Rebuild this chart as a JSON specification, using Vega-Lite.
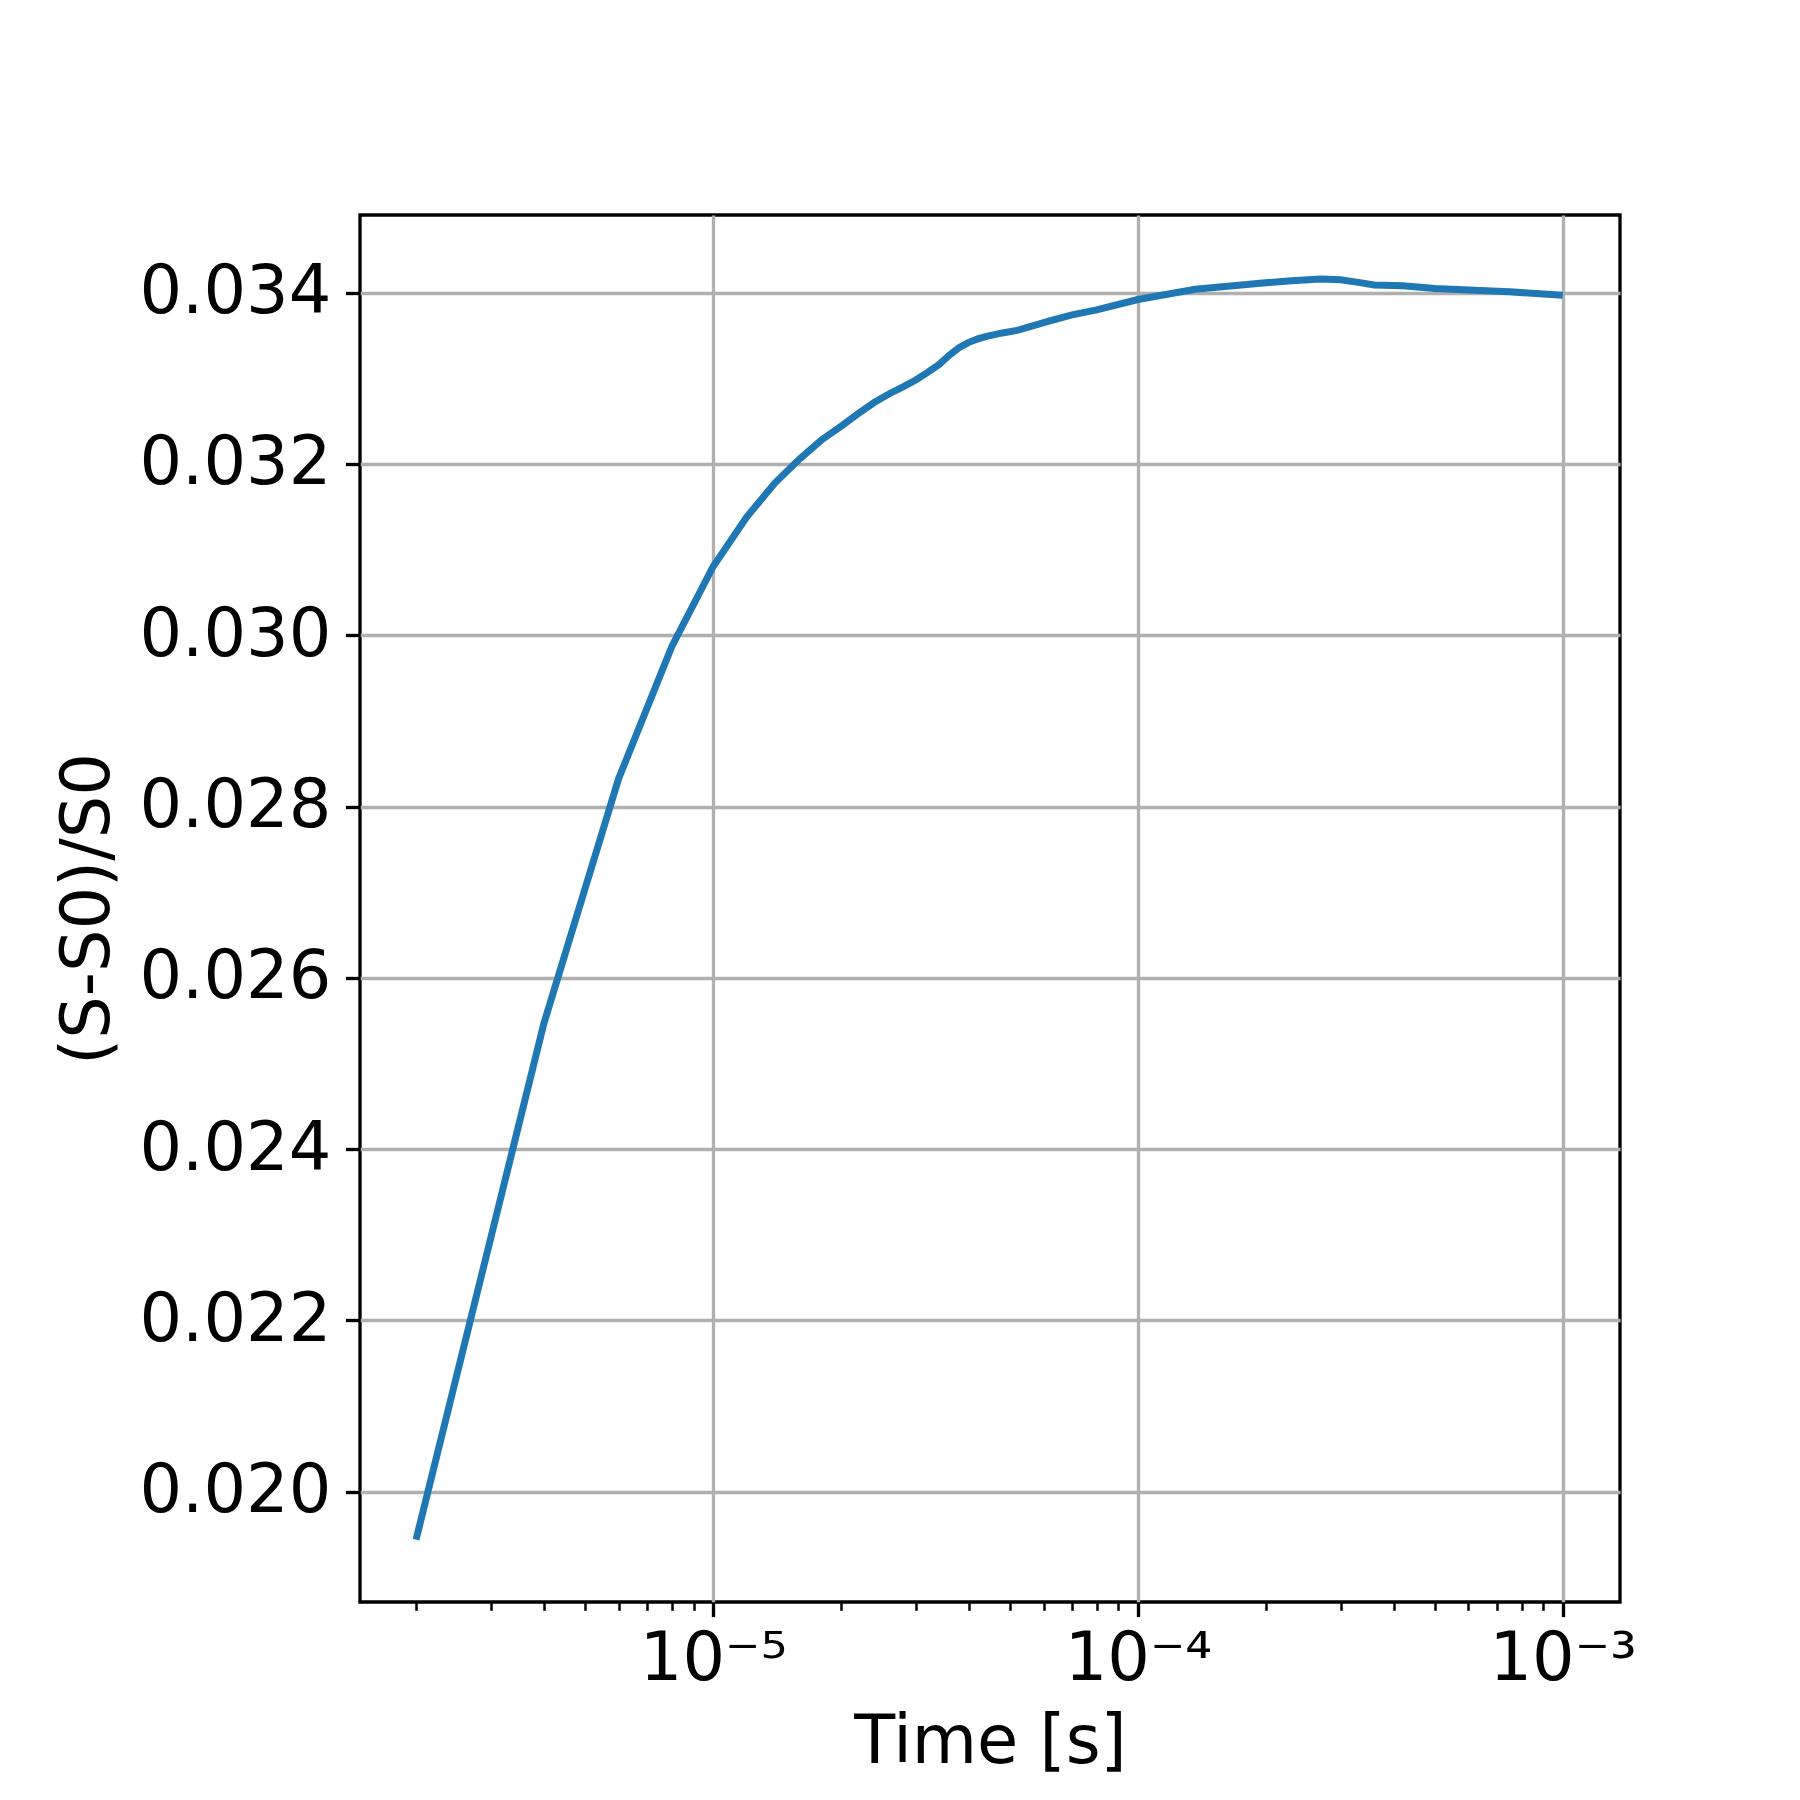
{
  "$schema": "https://vega.github.io/schema/vega-lite/v6.json",
  "width": 1260,
  "height": 1387,
  "autosize": {"type": "none"},
  "padding": {"left": 360, "top": 215, "right": 180, "bottom": 198},
  "background": "white",
  "config": {
    "view": {"stroke": "black", "strokeWidth": 3.33},
    "font": "DejaVu Sans"
  },
  "data": {
    "values": [
      {"t": 2e-6, "v": 0.01944},
      {"t": 4e-6, "v": 0.02547},
      {"t": 6e-6, "v": 0.02833},
      {"t": 8e-6, "v": 0.02987},
      {"t": 1.0e-5, "v": 0.03080},
      {"t": 1.2e-5, "v": 0.03138},
      {"t": 1.4e-5, "v": 0.03178},
      {"t": 1.6e-5, "v": 0.03206},
      {"t": 1.8e-5, "v": 0.03228},
      {"t": 2.0e-5, "v": 0.03244},
      {"t": 2.2e-5, "v": 0.03259},
      {"t": 2.4e-5, "v": 0.03272},
      {"t": 2.6e-5, "v": 0.03282},
      {"t": 2.8e-5, "v": 0.03290},
      {"t": 3.0e-5, "v": 0.03298},
      {"t": 3.2e-5, "v": 0.03307},
      {"t": 3.4e-5, "v": 0.03316},
      {"t": 3.6e-5, "v": 0.03327},
      {"t": 3.8e-5, "v": 0.03336},
      {"t": 4.0e-5, "v": 0.03342},
      {"t": 4.2e-5, "v": 0.03346},
      {"t": 4.4e-5, "v": 0.03349},
      {"t": 4.8e-5, "v": 0.03353},
      {"t": 5.2e-5, "v": 0.03356},
      {"t": 6.2e-5, "v": 0.03367},
      {"t": 7.0e-5, "v": 0.03374},
      {"t": 8.0e-5, "v": 0.03380},
      {"t": 1.0e-4, "v": 0.03392},
      {"t": 1.365e-4, "v": 0.03404},
      {"t": 1.94e-4, "v": 0.03411},
      {"t": 2.3e-4, "v": 0.03414},
      {"t": 2.7e-4, "v": 0.03416},
      {"t": 3.0e-4, "v": 0.03415},
      {"t": 3.3e-4, "v": 0.03412},
      {"t": 3.6e-4, "v": 0.03409},
      {"t": 4.2e-4, "v": 0.03408},
      {"t": 5.0e-4, "v": 0.03405},
      {"t": 6.0e-4, "v": 0.03403},
      {"t": 7.5e-4, "v": 0.03401},
      {"t": 1.0e-3, "v": 0.03397}
    ]
  },
  "mark": {"type": "line", "color": "#1f77b4", "strokeWidth": 7, "clip": true},
  "encoding": {
    "x": {
      "field": "t",
      "type": "quantitative",
      "scale": {"type": "log", "domain": [1.476e-6, 1.364e-3], "nice": false},
      "axis": {
        "title": "Time [s]",
        "titleFont": "DejaVu Sans",
        "titleFontSize": 67,
        "titleFontWeight": "normal",
        "titleColor": "black",
        "titlePadding": 17,
        "values": [2e-6, 3e-6, 4e-6, 5e-6, 6e-6, 7e-6, 8e-6, 9e-6, 1e-5, 2e-5, 3e-5, 4e-5, 5e-5, 6e-5, 7e-5, 8e-5, 9e-5, 1e-4, 2e-4, 3e-4, 4e-4, 5e-4, 6e-4, 7e-4, 8e-4, 9e-4, 1e-3],
        "labelExpr": "abs(datum.value-1e-5)<1e-7 ? '10⁻⁵' : abs(datum.value-1e-4)<1e-6 ? '10⁻⁴' : abs(datum.value-1e-3)<1e-5 ? '10⁻³' : ''",
        "labelFont": "DejaVu Sans",
        "labelFontSize": 67,
        "labelColor": "black",
        "labelPadding": 10,
        "labelLimit": 0,
        "labelOverlap": false,
        "labelFlush": false,
        "domain": false,
        "tickColor": "black",
        "tickSize": {"condition": {"test": "abs(log(datum.value)/LN10 - round(log(datum.value)/LN10)) < 0.001", "value": 14.6}, "value": 8.3},
        "tickWidth": {"condition": {"test": "abs(log(datum.value)/LN10 - round(log(datum.value)/LN10)) < 0.001", "value": 3.33}, "value": 2.5},
        "grid": true,
        "gridColor": "#b0b0b0",
        "gridWidth": 3.33,
        "gridOpacity": {"condition": {"test": "abs(log(datum.value)/LN10 - round(log(datum.value)/LN10)) < 0.001", "value": 1}, "value": 0}
      }
    },
    "y": {
      "field": "v",
      "type": "quantitative",
      "scale": {"domain": [0.018712, 0.034907], "nice": false, "zero": false},
      "axis": {
        "title": "(S-S0)/S0",
        "titleFont": "DejaVu Sans",
        "titleFontSize": 67,
        "titleFontWeight": "normal",
        "titleColor": "black",
        "titlePadding": 38,
        "values": [0.020, 0.022, 0.024, 0.026, 0.028, 0.030, 0.032, 0.034],
        "format": ".3f",
        "labelFont": "DejaVu Sans",
        "labelFontSize": 67,
        "labelColor": "black",
        "labelPadding": 14.6,
        "labelLimit": 0,
        "labelOverlap": false,
        "labelFlush": false,
        "domain": false,
        "tickColor": "black",
        "tickSize": 14.6,
        "tickWidth": 3.33,
        "grid": true,
        "gridColor": "#b0b0b0",
        "gridWidth": 3.33
      }
    }
  }
}
